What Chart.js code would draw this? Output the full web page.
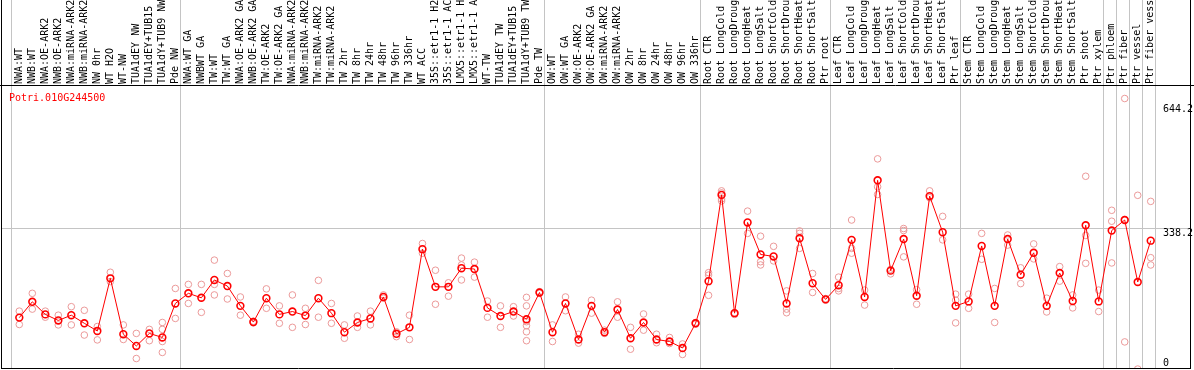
<!DOCTYPE html>
<html>
<head>
<meta charset="utf-8">
<script src="https://cdn.jsdelivr.net/npm/chart.js"></script>
<style>
  body { margin: 0; background: #fff; }
  #wrap { width: 1194px; height: 370px; }
</style>
</head>
<body>
<div id="wrap"><canvas id="exprChart" width="1194" height="370"></canvas></div>
<script>
const geneId = 'Potri.010G244500';

const categories = [
  'NWA:WT', 'NWB:WT', 'NWA:OE-ARK2', 'NWB:OE-ARK2', 'NWA:miRNA-ARK2', 'NWB:miRNA-ARK2',
  'NW 0hr', 'WT H2O', 'WT-NW', 'TUA1dEY NW', 'TUA1dEY+TUB15 NW', 'TUA1dY+TUB9 NW', 'Pde NW',
  'NWA:WT GA', 'NWBWT GA', 'TW:WT', 'TW:WT GA', 'NWA:OE-ARK2 GA', 'NWB:OE-ARK2 GA',
  'TW:OE-ARK2', 'TW:OE-ARK2 GA', 'NWA:miRNA-ARK2 GA', 'NWB:miRNA-ARK2 GA', 'TW:miRNA-ARK2',
  'TW:miRNA-ARK2 GA', 'TW 2hr', 'TW 8hr', 'TW 24hr', 'TW 48hr', 'TW 96hr', 'TW 336hr',
  'WT ACC', '35S::etr1-1 H2O', '35S::etr1-1 ACC', 'LMX5::etr1-1 H2O', 'LMX5::etr1-1 ACC',
  'WT-TW', 'TUA1dEY TW', 'TUA1dEY+TUB15 TW', 'TUA1dY+TUB9 TW', 'Pde TW',
  'OW:WT', 'OW:WT GA', 'OW:OE-ARK2', 'OW:OE-ARK2 GA', 'OW:miRNA-ARK2', 'OW:miRNA-ARK2 GA',
  'OW 2hr', 'OW 8hr', 'OW 24hr', 'OW 48hr', 'OW 96hr', 'OW 336hr',
  'Root CTR', 'Root LongCold', 'Root LongDrought', 'Root LongHeat', 'Root LongSalt',
  'Root ShortCold', 'Root ShortDrought', 'Root ShortHeat', 'Root ShortSalt', 'Ptr root',
  'Leaf CTR', 'Leaf LongCold', 'Leaf LongDrought', 'Leaf LongHeat', 'Leaf LongSalt',
  'Leaf ShortCold', 'Leaf ShortDrought', 'Leaf ShortHeat', 'Leaf ShortSalt', 'Ptr leaf',
  'Stem CTR', 'Stem LongCold', 'Stem LongDrought', 'Stem LongHeat', 'Stem LongSalt',
  'Stem ShortCold', 'Stem ShortDrought', 'Stem ShortHeat', 'Stem ShortSalt',
  'Ptr shoot', 'Ptr xylem', 'Ptr phloem', 'Ptr fiber', 'Ptr vessel', 'Ptr fiber vessel'
];

// mean expression per sample
const means = [
  117, 156, 125, 110, 123, 103, 84, 214, 76, 47, 78, 68, 152, 177, 166, 210, 195, 146, 106, 165, 125, 132,
  122, 165, 128, 81, 105, 115, 168, 77, 93, 286, 193, 193, 239, 237, 141, 121, 132, 113, 179, 81, 152, 63, 146,
  81, 137, 66, 105, 63, 58, 42, 103, 207, 420, 128, 352, 273, 268, 152, 313, 202, 162, 197, 309, 168, 456, 233,
  311, 171, 417, 328, 146, 157, 294, 146, 311, 223, 277, 146, 227, 158, 345, 157, 332, 358, 205, 307
];

// individual replicates per sample
const replicates = [
  [133, 100], [177, 138], [133, 118], [123, 99], [144, 99], [135, 74], [95, 62], [229, 206],
  [99, 63], [78, 16], [88, 60], [105, 88, 58, 31], [189, 115], [199, 152], [199, 130],
  [259, 199, 173], [226, 163], [168, 123], [108, 104], [188, 140], [146, 103], [173, 93],
  [140, 100], [209, 118], [152, 103], [99, 66], [121, 93], [133, 99], [173, 165], [82, 70],
  [123, 63], [300, 276], [234, 150], [203, 170], [264, 247, 210], [254, 217], [158, 118],
  [146, 93], [144, 121], [167, 146, 107, 97, 82, 60], [181, 177], [99, 58], [168, 134],
  [76, 54], [160, 128],
  [86, 78], [156, 118], [93, 39], [126, 86], [76, 55], [68, 53], [52, 26], [105, 101],
  [228, 222, 172], [430, 425, 410, 405], [129, 125], [380, 325], [318, 255, 247], [293, 257],
  [183, 138, 129], [331, 325, 288], [226, 179], [164, 160], [217, 189, 183], [358, 288, 276],
  [185, 148], [509, 440, 421], [236, 225],
  [337, 332, 267], [186, 150], [430, 413], [367, 309], [175, 160, 104], [175, 140], [325, 261],
  [189, 105], [321, 296], [240, 201], [299, 262], [165, 131], [243, 207], [173, 141],
  [466, 320, 251], [185, 132], [382, 355, 252], [658, 359, 57], [419, -10], [404, 265, 247]
];

const yTicks = [0, 338.2, 644.2];
const yGrid = [338.2];
// last sample of each group, separator drawn just after it
const groupEnds = [-1, 12, 40, 52, 62, 72, 83, 84, 85, 86, 87];

const repPoints = [];
replicates.forEach((vals, i) => vals.forEach(v => repPoints.push({x: i, y: v})));

const decor = {
  id: 'decor',
  beforeDraw(chart) {
    const {ctx, scales: {x, y}, chartArea: a} = chart;
    ctx.save();
    ctx.fillStyle = '#fff';
    ctx.fillRect(0, 0, chart.width, chart.height);
    ctx.strokeStyle = '#c4c4c4';
    ctx.lineWidth = 1;
    groupEnds.forEach(i => {
      const px = Math.round(x.getPixelForValue(i + 0.36)) + 0.5;
      ctx.beginPath();
      ctx.moveTo(px, 0);
      ctx.lineTo(px, a.bottom);
      ctx.stroke();
    });
    yGrid.forEach(v => {
      const py = Math.round(y.getPixelForValue(v)) + 0.5;
      ctx.beginPath();
      ctx.moveTo(a.left, py);
      ctx.lineTo(a.right, py);
      ctx.stroke();
    });
    ctx.restore();
  },
  afterDraw(chart) {
    const {ctx, scales: {y}, chartArea: a} = chart;
    ctx.save();
    ctx.strokeStyle = '#000';
    ctx.lineWidth = 1;
    ctx.beginPath();
    ctx.moveTo(0, a.top - 0.5); ctx.lineTo(chart.width, a.top - 0.5);
    ctx.moveTo(a.left - 0.5, 0); ctx.lineTo(a.left - 0.5, a.bottom + 1);
    ctx.moveTo(a.right + 0.5, 0); ctx.lineTo(a.right + 0.5, a.bottom + 1);
    ctx.moveTo(a.left - 1, a.bottom + 0.5); ctx.lineTo(a.right + 1, a.bottom + 0.5);
    ctx.stroke();

    ctx.font = '10px "DejaVu Sans Mono"';
    ctx.fillStyle = '#000';
    ctx.textAlign = 'left';
    ctx.textBaseline = 'alphabetic';
    yTicks.forEach(v => {
      const py = y.getPixelForValue(v);
      ctx.fillText(String(v), 1163, Math.round(v === 0 ? py + 0.5 : py + 7.5));
    });

    ctx.fillStyle = '#ff0000';
    ctx.fillText(geneId, 9, a.top + 15);
    ctx.restore();
  }
};

new Chart(document.getElementById('exprChart'), {
  type: 'line',
  data: {
    datasets: [
      {
        label: 'mean',
        data: means.map((v, i) => ({x: i, y: v})),
        borderColor: '#ff0000',
        borderWidth: 1,
        pointRadius: 3.4,
        pointBorderWidth: 1.6,
        pointBorderColor: '#ff0000',
        pointBackgroundColor: 'rgba(0,0,0,0)',
        tension: 0,
        order: 0
      },
      {
        label: 'replicates',
        data: repPoints,
        showLine: false,
        pointRadius: 3.3,
        pointBorderWidth: 1,
        pointBorderColor: '#ec9a9a',
        pointBackgroundColor: 'rgba(0,0,0,0)',
        order: 1
      }
    ]
  },
  options: {
    responsive: false,
    animation: false,
    layout: { autoPadding: false, padding: { left: 2, right: 4, top: 0, bottom: 2 } },
    plugins: { legend: { display: false }, tooltip: { enabled: false } },
    scales: {
      x: {
        type: 'linear',
        position: 'top',
        min: -1.33,
        max: 90.02,
        afterBuildTicks: s => { s.ticks = categories.map((c, i) => ({value: i})); },
        afterFit: s => { s.height = 86; s.paddingLeft = 0; s.paddingRight = 0; },
        grid: { display: false, drawTicks: false },
        border: { display: false },
        ticks: {
          autoSkip: false,
          minRotation: 90,
          maxRotation: 90,
          padding: 2,
          labelOffset: 12,
          color: '#000',
          font: { family: '"DejaVu Sans Mono"', size: 10 },
          callback: v => categories[v] ?? ''
        }
      },
      y: {
        type: 'linear',
        display: false,
        min: -7.4,
        max: 688.9
      }
    }
  },
  plugins: [decor]
});
</script>
</body>
</html>
